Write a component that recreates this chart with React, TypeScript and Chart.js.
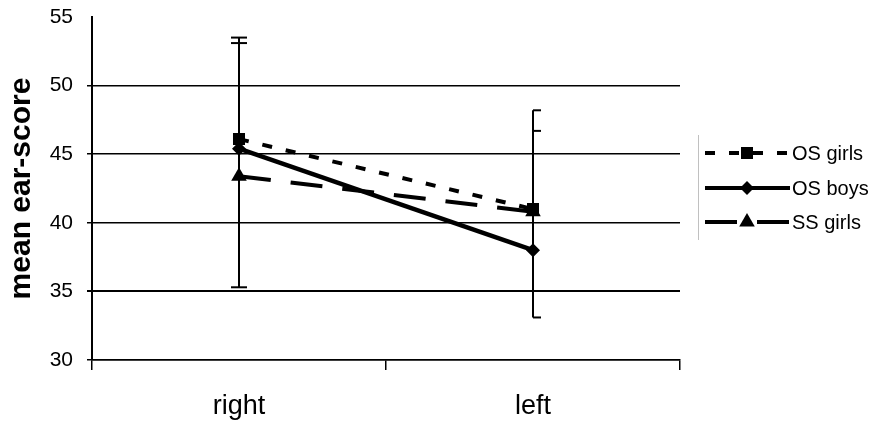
import React, { useEffect, useRef } from "react";
import { Chart, registerables } from "chart.js";

Chart.register(...registerables);

const categories = ["right", "left"];
const osGirls = [46.1, 41.0];
const osBoys = [45.4, 38.0];
const ssGirls = [43.4, 40.8];
const errHighA = [53.5, 48.2];
const errHighB = [53.1, 46.7];
const errLow = [35.3, 33.1];
const yTicks = [30, 35, 40, 45, 50, 55];

const FONT = "'Liberation Sans', Arial, sans-serif";

function drawMarker(ctx: CanvasRenderingContext2D, style: string, x: number, y: number, r: number) {
  ctx.beginPath();
  if (style === "rect") {
    const s = Math.SQRT1_2 * r;
    ctx.rect(x - s, y - s, 2 * s, 2 * s);
  } else if (style === "rectRot") {
    ctx.moveTo(x, y - r);
    ctx.lineTo(x + r, y);
    ctx.lineTo(x, y + r);
    ctx.lineTo(x - r, y);
    ctx.closePath();
  } else {
    ctx.moveTo(x, y - r);
    ctx.lineTo(x + r * Math.sin((2 * Math.PI) / 3), y + r / 2);
    ctx.lineTo(x - r * Math.sin((2 * Math.PI) / 3), y + r / 2);
    ctx.closePath();
  }
  ctx.fillStyle = "#000";
  ctx.fill();
}

const errorBarPlugin = {
  id: "errorBars",
  afterDatasetsDraw(chart: any) {
    const ctx = chart.ctx as CanvasRenderingContext2D;
    const xs = chart.scales.x;
    const ys = chart.scales.y;
    ctx.save();
    ctx.strokeStyle = "#000";
    ctx.lineWidth = 2;
    categories.forEach((_, i) => {
      const x = xs.getPixelForValue(i);
      const top = ys.getPixelForValue(errHighA[i]);
      const bot = ys.getPixelForValue(errLow[i]);
      ctx.beginPath();
      ctx.moveTo(x, top);
      ctx.lineTo(x, bot);
      ctx.stroke();
      const left = i === 0 ? 8 : 0;
      const right = 8;
      [errHighA[i], errHighB[i], errLow[i]].forEach((v) => {
        const y = ys.getPixelForValue(v);
        ctx.beginPath();
        ctx.moveTo(x - left, y);
        ctx.lineTo(x + right, y);
        ctx.stroke();
      });
    });
    ctx.restore();
  },
};

const legendPlugin = {
  id: "customLegend",
  afterDraw(chart: any) {
    const ctx = chart.ctx as CanvasRenderingContext2D;
    ctx.save();
    ctx.strokeStyle = "#c0c0c0";
    ctx.lineWidth = 1;
    ctx.beginPath();
    ctx.moveTo(698.5, 135);
    ctx.lineTo(698.5, 240);
    ctx.stroke();
    const rows = [153, 188, 222];
    chart.data.datasets.forEach((ds: any, i: number) => {
      const y = rows[i];
      ctx.strokeStyle = "#000";
      ctx.lineWidth = 4;
      ctx.setLineDash(ds.borderDash || []);
      ctx.beginPath();
      ctx.moveTo(705, y);
      ctx.lineTo(790, y);
      ctx.stroke();
      ctx.setLineDash([]);
      drawMarker(ctx, ds.pointStyle, 747, y, ds.pointRadius);
      ctx.fillStyle = "#000";
      ctx.font = `20px ${FONT}`;
      ctx.textAlign = "left";
      ctx.textBaseline = "middle";
      ctx.fillText(ds.label, 792, y + 1);
    });
    ctx.restore();
  },
};

export default function App() {
  const ref = useRef<HTMLCanvasElement>(null);
  useEffect(() => {
    if (!ref.current) return;
    const chart = new Chart(ref.current, {
      type: "line",
      data: {
        labels: categories,
        datasets: [
          {
            label: "OS girls",
            data: osGirls,
            borderColor: "#000",
            backgroundColor: "#000",
            borderWidth: 4,
            borderDash: [10, 14],
            pointStyle: "rect",
            pointRadius: 8.5,
            pointBackgroundColor: "#000",
            pointBorderColor: "#000",
            pointBorderWidth: 0,
          },
          {
            label: "OS boys",
            data: osBoys,
            borderColor: "#000",
            backgroundColor: "#000",
            borderWidth: 4.5,
            pointStyle: "rectRot",
            pointRadius: 7,
            pointBackgroundColor: "#000",
            pointBorderColor: "#000",
            pointBorderWidth: 0,
          },
          {
            label: "SS girls",
            data: ssGirls,
            borderColor: "#000",
            backgroundColor: "#000",
            borderWidth: 4,
            borderDash: [32, 20],
            pointStyle: "triangle",
            pointRadius: 9,
            pointBackgroundColor: "#000",
            pointBorderColor: "#000",
            pointBorderWidth: 0,
          },
        ],
      },
      options: {
        responsive: false,
        animation: false,
        layout: { padding: { left: 0, right: 206, top: 17, bottom: 0 } },
        plugins: { legend: { display: false }, tooltip: { enabled: false } },
        scales: {
          x: {
            type: "category",
            offset: true,
            grid: {
              offset: true,
              drawOnChartArea: false,
              drawTicks: true,
              tickLength: 10,
              color: "#000",
              lineWidth: 1.5,
            },
            border: { display: true, color: "#000", width: 1.5 },
            ticks: {
              color: "#000",
              font: { family: FONT, size: 27 },
              padding: 20,
            },
            afterFit: (s: any) => {
              s.height = 64;
              s.paddingLeft = 0;
              s.paddingRight = 0;
            },
          },
          y: {
            min: 30,
            max: 55,
            afterBuildTicks: (s: any) => {
              s.ticks = yTicks.map((v) => ({ value: v }));
            },
            grid: {
              color: (c: any) => (c.tick && c.tick.value === 55 ? "rgba(0,0,0,0)" : "#000"),
              lineWidth: (c: any) => (c.tick && c.tick.value === 35 ? 2 : 1.5),
              drawTicks: true,
              tickLength: 5,
            },
            border: { display: true, color: "#000", width: 2 },
            ticks: {
              color: "#000",
              font: { family: FONT, size: 21 },
              padding: 14,
            },
            title: {
              display: true,
              text: "mean ear-score",
              color: "#000",
              font: { family: FONT, size: 30, weight: "bold" },
              padding: { top: 4, bottom: 0 },
            },
            afterFit: (s: any) => {
              s.width = 92;
              s.paddingTop = 0;
              s.paddingBottom = 0;
            },
          },
        },
      },
      plugins: [errorBarPlugin, legendPlugin],
    });
    return () => chart.destroy();
  }, []);
  return (
    <div style={{ position: "absolute", left: 0, top: 0, width: 886, height: 424, background: "#fff" }}>
      <canvas ref={ref} width={886} height={424} />
    </div>
  );
}
